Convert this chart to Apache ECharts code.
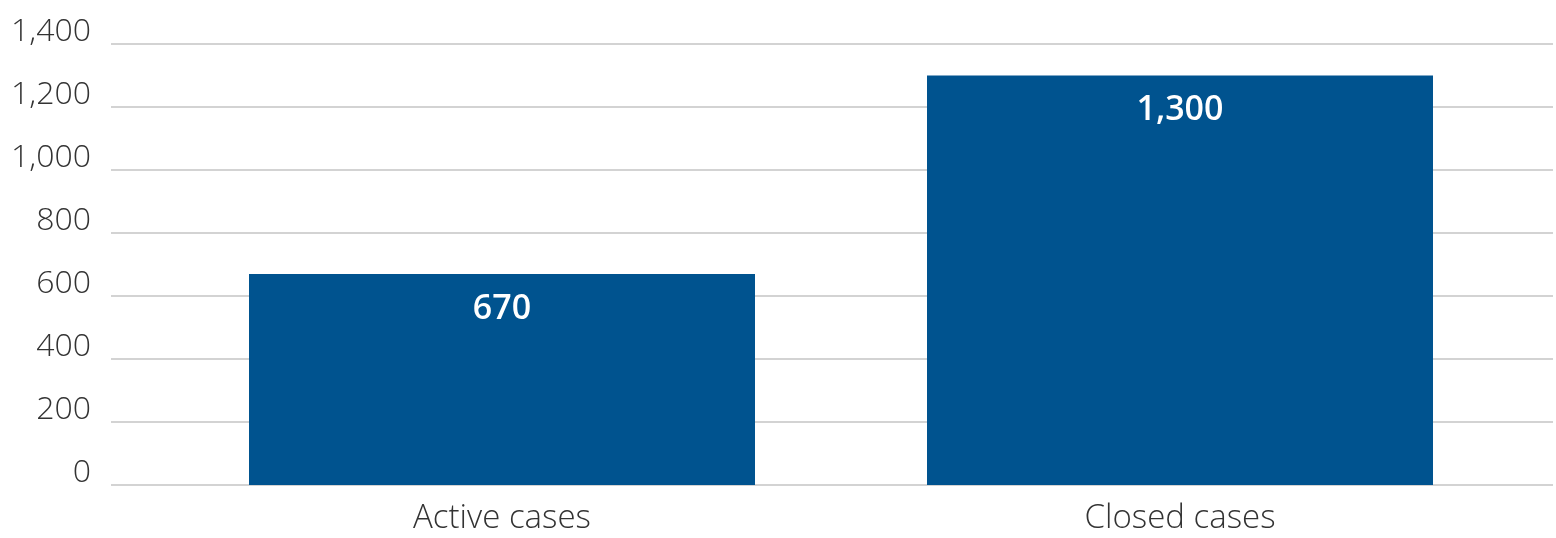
<!DOCTYPE html>
<html><head><meta charset="utf-8">
<script src="https://cdn.jsdelivr.net/npm/echarts@6/dist/echarts.min.js"></script>
<style>html,body{margin:0;padding:0;background:#fff}#c{width:1556px;height:538px}</style>
</head><body><div id="c"></div>
<script>
const categories = ['Active cases', 'Closed cases'];
const values = [670, 1300];
const yTicks = [0, 200, 400, 600, 800, 1000, 1200, 1400];

const chart = echarts.init(document.getElementById('c'));
const fontFamily = '"Open Sans", "Noto Sans", sans-serif';
chart.setOption({
  animation: false,
  grid: [
    {left: 111, right: 3, top: 44, bottom: 53},
    {left: 163, right: 37, top: 44, bottom: 53}
  ],
  xAxis: [
    {type: 'category', gridIndex: 0, data: categories, show: false},
    {type: 'category', gridIndex: 1, data: categories,
      axisLine: {show: false}, axisTick: {show: false},
      axisLabel: {color: '#333', fontSize: 33, fontFamily, fontWeight: 300, margin: 17}}
  ],
  yAxis: [
    {type: 'value', gridIndex: 0, min: yTicks[0], max: yTicks[yTicks.length-1], interval: 200,
      axisLine: {show: false}, axisTick: {show: false},
      axisLabel: {color: '#333', fontSize: 32, fontFamily, fontWeight: 300, margin: 20,
        verticalAlign: 'bottom', lineHeight: 24,
        formatter: v => v.toLocaleString('en-US')},
      splitLine: {lineStyle: {color: '#d3d3d3', width: 2}}},
    {type: 'value', gridIndex: 1, min: yTicks[0], max: yTicks[yTicks.length-1], interval: 200, show: false, splitLine: {show: false}}
  ],
  series: [{
    type: 'bar', xAxisIndex: 1, yAxisIndex: 1, data: values, barWidth: 506,
    itemStyle: {color: '#00538f'},
    label: {show: true, position: 'insideTop', distance: 18, color: '#fff', fontSize: 34,
      fontWeight: 600, fontFamily, formatter: p => p.value.toLocaleString('en-US')}
  }]
});
</script></body></html>
